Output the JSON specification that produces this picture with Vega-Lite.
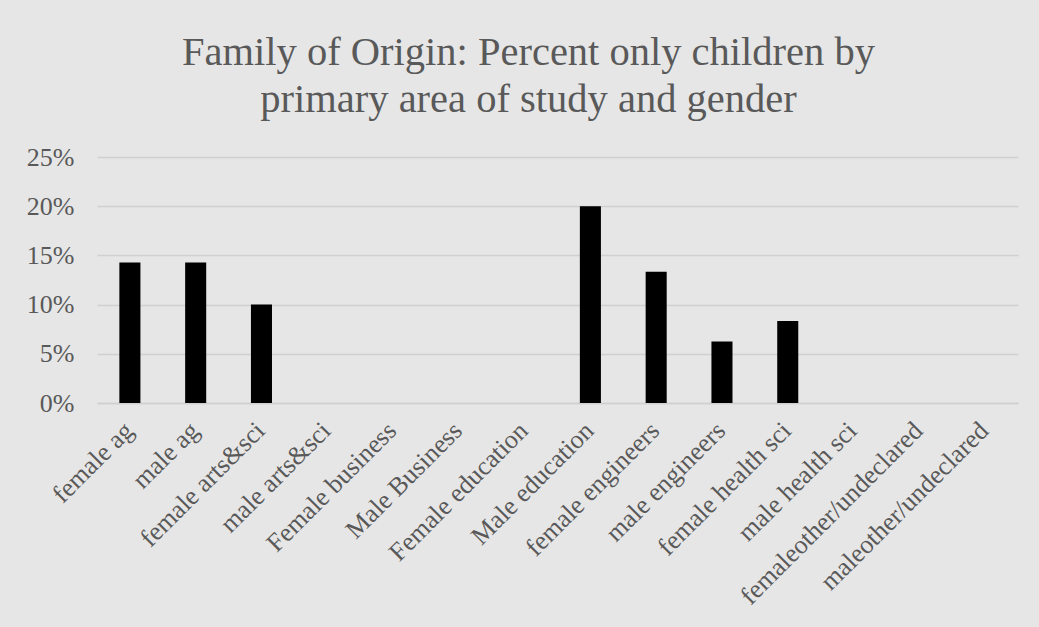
{
  "$schema": "https://vega.github.io/schema/vega-lite/v6.json",
  "autosize": {"type": "none"},
  "width": 921,
  "height": 246,
  "padding": {"left": 97, "top": 157, "right": 21, "bottom": 224},
  "background": "#e6e6e6",
  "title": {
    "text": ["Family of Origin: Percent only children by", "primary area of study and gender"],
    "font": "Liberation Serif",
    "fontSize": 40.5,
    "fontWeight": "normal",
    "color": "#595959",
    "anchor": "middle",
    "frame": "group",
    "lineHeight": 47,
    "dx": -29,
    "offset": 24
  },
  "config": {
    "view": {"stroke": null},
    "axis": {"labelFont": "Liberation Serif", "labelColor": "#595959", "labelFontSize": 26, "labelLimit": 0}
  },
  "data": {
    "values": [
      {"group": "female ag", "pct": 0.1429},
      {"group": "male ag", "pct": 0.1429},
      {"group": "female arts&sci", "pct": 0.10},
      {"group": "male arts&sci", "pct": 0},
      {"group": "Female business", "pct": 0},
      {"group": "Male Business", "pct": 0},
      {"group": "Female education", "pct": 0},
      {"group": "Male education", "pct": 0.20},
      {"group": "female engineers", "pct": 0.1333},
      {"group": "male engineers", "pct": 0.0625},
      {"group": "female health sci", "pct": 0.0833},
      {"group": "male health sci", "pct": 0},
      {"group": "femaleother/undeclared", "pct": 0},
      {"group": "maleother/undeclared", "pct": 0}
    ]
  },
  "mark": {"type": "bar", "color": "#000000"},
  "encoding": {
    "x": {
      "field": "group",
      "type": "nominal",
      "sort": null,
      "title": null,
      "scale": {"paddingInner": 0.68, "paddingOuter": 0.34},
      "axis": {
        "labelAngle": -45,
        "labelAlign": "right",
        "labelBaseline": "top",
        "labelPadding": 14,
        "labelOffset": -10,
        "ticks": false,
        "domainColor": "#d0d0d0",
        "domainWidth": 1.5
      }
    },
    "y": {
      "field": "pct",
      "type": "quantitative",
      "title": null,
      "scale": {"domain": [0, 0.25]},
      "axis": {
        "format": ".0%",
        "values": [0, 0.05, 0.1, 0.15, 0.2, 0.25],
        "ticks": false,
        "domain": false,
        "gridColor": "#d0d0d0",
        "gridWidth": 1.5,
        "labelPadding": 23
      }
    }
  }
}
